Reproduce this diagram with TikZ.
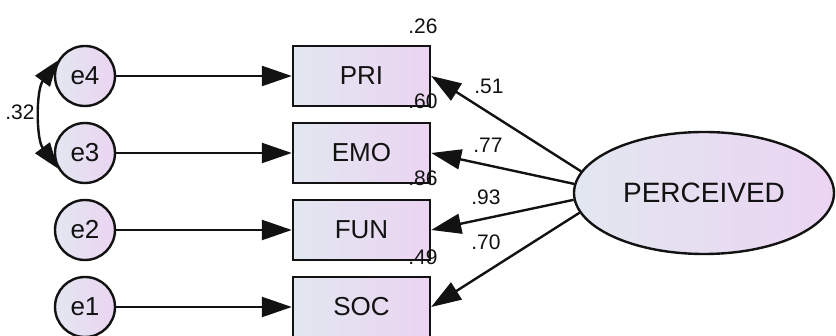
\documentclass[tikz,border=0pt]{standalone}
\usepackage{fontspec}
\setmainfont{Liberation Sans}
\usetikzlibrary{arrows.meta,shapes.geometric}
\definecolor{fillA}{RGB}{226,231,240}
\definecolor{fillB}{RGB}{235,212,242}
\definecolor{ink}{RGB}{18,18,18}
\begin{document}
\begin{tikzpicture}[x=1pt,y=-1pt,
  grad/.style={draw=ink, line width=2.4pt, left color=fillA, right color=fillB, text=ink},
  obs/.style={grad, rectangle, minimum width=137pt, minimum height=60pt, inner sep=0pt,
    font=\fontsize{26}{26}\selectfont},
  err/.style={grad, circle, minimum size=60pt, inner sep=0pt,
    font=\fontsize{26}{26}\selectfont},
  lat/.style={grad, ellipse, minimum width=260pt, minimum height=122pt, inner sep=0pt,
    font=\fontsize{28}{28}\selectfont},
  arr/.style={draw=ink, line width=2.4pt, -{Triangle[length=30pt,width=20pt]}},
  cov/.style={draw=ink, line width=2.4pt,
    {Triangle[length=26pt,width=18pt]}-{Triangle[length=26pt,width=18pt]}},
  num/.style={font=\fontsize{21}{21}\selectfont, text=ink, inner sep=0pt}
]
\useasboundingbox (0,0) rectangle (836,336);

% latent factor
\node[lat] (per) at (704,193) {PERCEIVED};

% observed indicators
\node[obs] (pri) at (361.5,76) {PRI};
\node[obs] (emo) at (361.5,153) {EMO};
\node[obs] (fun) at (361.5,230) {FUN};
\node[obs] (soc) at (361.5,307) {SOC};

% error terms
\node[err] (e4) at (85,76) {e4};
\node[err] (e3) at (85,153) {e3};
\node[err] (e2) at (85,230) {e2};
\node[err] (e1) at (85,307) {e1};

% error paths
\draw[arr] (e4) -- (pri);
\draw[arr] (e3) -- (emo);
\draw[arr] (e2) -- (fun);
\draw[arr] (e1) -- (soc);

% factor loadings
\draw[arr] (per.170) -- (pri.east);
\draw[arr] (per.176) -- (emo.east);
\draw[arr] (per.183) -- (fun.east);
\draw[arr] (per.189) -- (soc.east);

% error covariance
\draw[cov] (e4.150) .. controls (36,90) and (36,139) .. (e3.210);

% estimates
\node[num] (c32) at (20,112) {.32};
\node[num] (l51) at (489,86) {.51};
\node[num] (l77) at (488,145) {.77};
\node[num] (l93) at (486,197) {.93};
\node[num] (l70) at (486,242) {.70};
\node[num] (r26) at (423,26) {.26};
\node[num] (r60) at (423,101) {.60};
\node[num] (r86) at (423,178) {.86};
\node[num] (r49) at (423,257) {.49};
\end{tikzpicture}
\end{document}
